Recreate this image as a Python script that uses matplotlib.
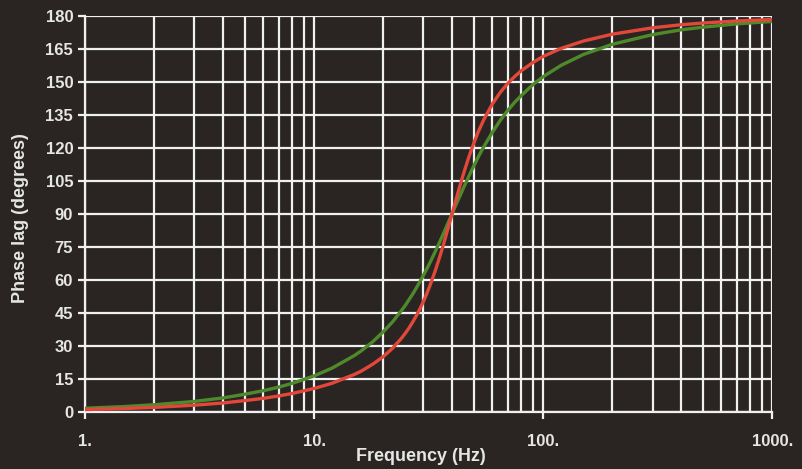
import matplotlib
matplotlib.use("Agg")
import matplotlib.pyplot as plt
from matplotlib.ticker import FixedLocator, LogLocator, NullFormatter

# values
freq = [1, 1.5, 2, 3, 4, 5, 6, 7, 8, 10, 12, 15, 16, 18, 20, 22, 24, 25, 26, 27, 28, 29,
        30, 31, 32, 33, 34, 35, 36, 37, 38, 39, 40, 41, 42, 43, 45, 47, 48, 50, 52, 55,
        60, 65, 70, 75, 80, 90, 100, 120, 150, 200, 300, 400, 500, 700, 1000]
red_lag = [1.0, 1.5, 2.0, 3.0, 4.0, 5.1, 6.1, 7.2, 8.3, 10.6, 13.0, 17.0, 18.4, 21.6,
           25.0, 28.9, 33.3, 35.7, 38.2, 41.0, 43.9, 46.9, 50.2, 53.6, 57.3, 61.1,
           65.0, 69.1, 73.2, 77.4, 81.7, 85.9, 90.0, 94.0, 97.9, 101.7, 108.6, 114.8,
           117.6, 122.7, 127.2, 132.8, 140.0, 145.3, 149.3, 152.4, 155.0, 158.8,
           161.6, 165.3, 168.6, 171.7, 174.6, 176.0, 176.8, 177.7, 178.4]
green_lag = [1.6, 2.4, 3.2, 4.7, 6.3, 8.0, 9.6, 11.2, 12.9, 16.3, 19.9, 25.6, 27.6, 31.8,
             36.3, 40.9, 45.9, 48.4, 51.1, 53.7, 56.5, 59.3, 62.1, 64.9, 67.7, 70.6,
             73.5, 76.3, 79.1, 81.9, 84.7, 87.4, 90.0, 92.6, 95.1, 97.5, 102.1, 106.4,
             108.4, 112.2, 115.8, 120.5, 127.1, 132.6, 137.0, 140.7, 143.7, 148.7,
             152.4, 157.6, 162.5, 167.1, 171.5, 173.7, 174.9, 176.4, 177.5]

y_ticks = list(range(0, 181, 15))
x_ticks = [1, 10, 100, 1000]
x_labels = ["1.", "10.", "100.", "1000."]

BG = "#2a2522"
FG = "#e6e6e6"
GRID = "#f0f0f0"

plt.rcParams["font.family"] = ["Liberation Sans", "DejaVu Sans"]
plt.rcParams["font.weight"] = "bold"

fig = plt.figure(figsize=(8.02, 4.69), dpi=100, facecolor=BG)
ax = fig.add_axes([0.106, 0.122, 0.857, 0.844], facecolor=BG)

ax.plot(freq, green_lag, color="#4e8a2c", lw=2.4, zorder=3)
ax.plot(freq, red_lag, color="#e2483a", lw=2.4, zorder=4)

ax.set_xscale("log")
ax.set_xlim(1, 1000)
ax.set_ylim(0, 180)
ax.set_xticks(x_ticks)
ax.set_xticklabels(x_labels)
ax.xaxis.set_minor_locator(LogLocator(base=10, subs=range(2, 10)))
ax.xaxis.set_minor_formatter(NullFormatter())
ax.yaxis.set_major_locator(FixedLocator(y_ticks))

ax.grid(True, which="both", axis="x", color=GRID, lw=1.6)
ax.grid(True, which="major", axis="y", color=GRID, lw=1.6)

for side in ["top", "right"]:
    ax.spines[side].set_visible(False)
for side in ["left", "bottom"]:
    ax.spines[side].set_color(GRID)
    ax.spines[side].set_linewidth(1.6)

ax.tick_params(axis="both", which="major", colors=GRID, labelcolor=FG,
               labelsize=12, length=5, width=1.6, direction="out")
ax.tick_params(axis="x", which="minor", length=0)
ax.tick_params(axis="x", which="major", pad=11)
for lbl in ax.get_xticklabels() + ax.get_yticklabels():
    lbl.set_fontweight("bold")

ax.set_xlabel("Frequency (Hz)", color=FG, fontsize=13, fontweight="bold")
ax.set_ylabel("Phase lag (degrees)", color=FG, fontsize=13, fontweight="bold")
ax.xaxis.set_label_coords(0.489, -0.091)
ax.yaxis.set_label_coords(-0.0815, 0.49)

fig.savefig("out.png", dpi=100, facecolor=BG)
